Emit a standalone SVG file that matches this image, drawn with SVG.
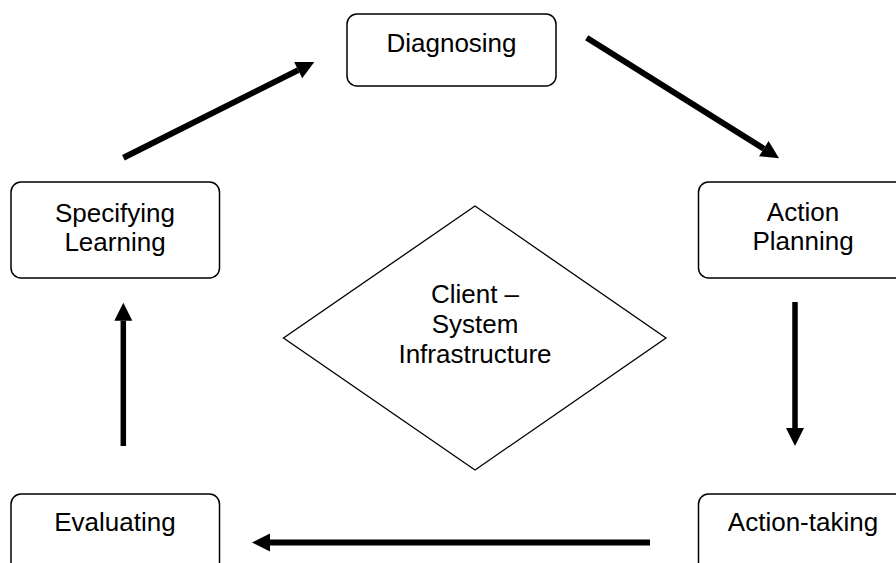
<svg xmlns="http://www.w3.org/2000/svg" width="896" height="563" viewBox="0 0 896 563">
<style>
.box{fill:#fff;stroke:#000;stroke-width:1.5}
.dia{fill:#fff;stroke:#000;stroke-width:1.3}
.lbl{font-family:"Liberation Sans",Arial,sans-serif;font-size:26px;fill:#000;text-anchor:middle}
.arr{stroke:#000;stroke-width:6;fill:none;marker-end:url(#ah)}
.arrv{stroke:#000;stroke-width:5.5;fill:none;marker-end:url(#ah)}
</style>
<defs>
<marker id="ah" markerUnits="userSpaceOnUse" markerWidth="19" markerHeight="19" refX="0" refY="9" orient="auto" overflow="visible">
<path d="M0,0 L18,9 L0,18 Z" fill="#000"/>
</marker>
</defs>
<rect width="896" height="563" fill="#fff"/>
<g id="connectors">
<line class="arr" x1="123.4" y1="157.7" x2="298.2" y2="70.1"/>
<line class="arr" x1="586.7" y1="37.7" x2="763.8" y2="148.7"/>
<line class="arrv" x1="795" y1="302" x2="795" y2="428"/>
<line class="arr" x1="650" y1="542.5" x2="270" y2="542.5"/>
<line class="arrv" x1="123.3" y1="446" x2="123.3" y2="320.7"/>
</g>
<g id="diagnosing">
<rect class="box" x="347" y="14" width="209" height="72" rx="10"/>
<text class="lbl" x="451.5" y="52">Diagnosing</text>
</g>
<g id="action-planning">
<rect class="box" x="698.5" y="182" width="209" height="96" rx="10"/>
<text class="lbl" x="803" y="221">Action</text>
<text class="lbl" x="803" y="250">Planning</text>
</g>
<g id="action-taking">
<rect class="box" x="698.5" y="494" width="209" height="90" rx="10"/>
<text class="lbl" x="803" y="531">Action-taking</text>
</g>
<g id="evaluating">
<rect class="box" x="11" y="494" width="208.5" height="90" rx="10"/>
<text class="lbl" x="115" y="531">Evaluating</text>
</g>
<g id="specifying-learning">
<rect class="box" x="11" y="182" width="208.5" height="96" rx="10"/>
<text class="lbl" x="115" y="221.5">Specifying</text>
<text class="lbl" x="115" y="251">Learning</text>
</g>
<g id="client-system">
<polygon class="dia" points="475,206 666,338 475,470 283.5,338"/>
<text class="lbl" x="475" y="302.5">Client –</text>
<text class="lbl" x="475" y="332.5">System</text>
<text class="lbl" x="475" y="363">Infrastructure</text>
</g>
</svg>
